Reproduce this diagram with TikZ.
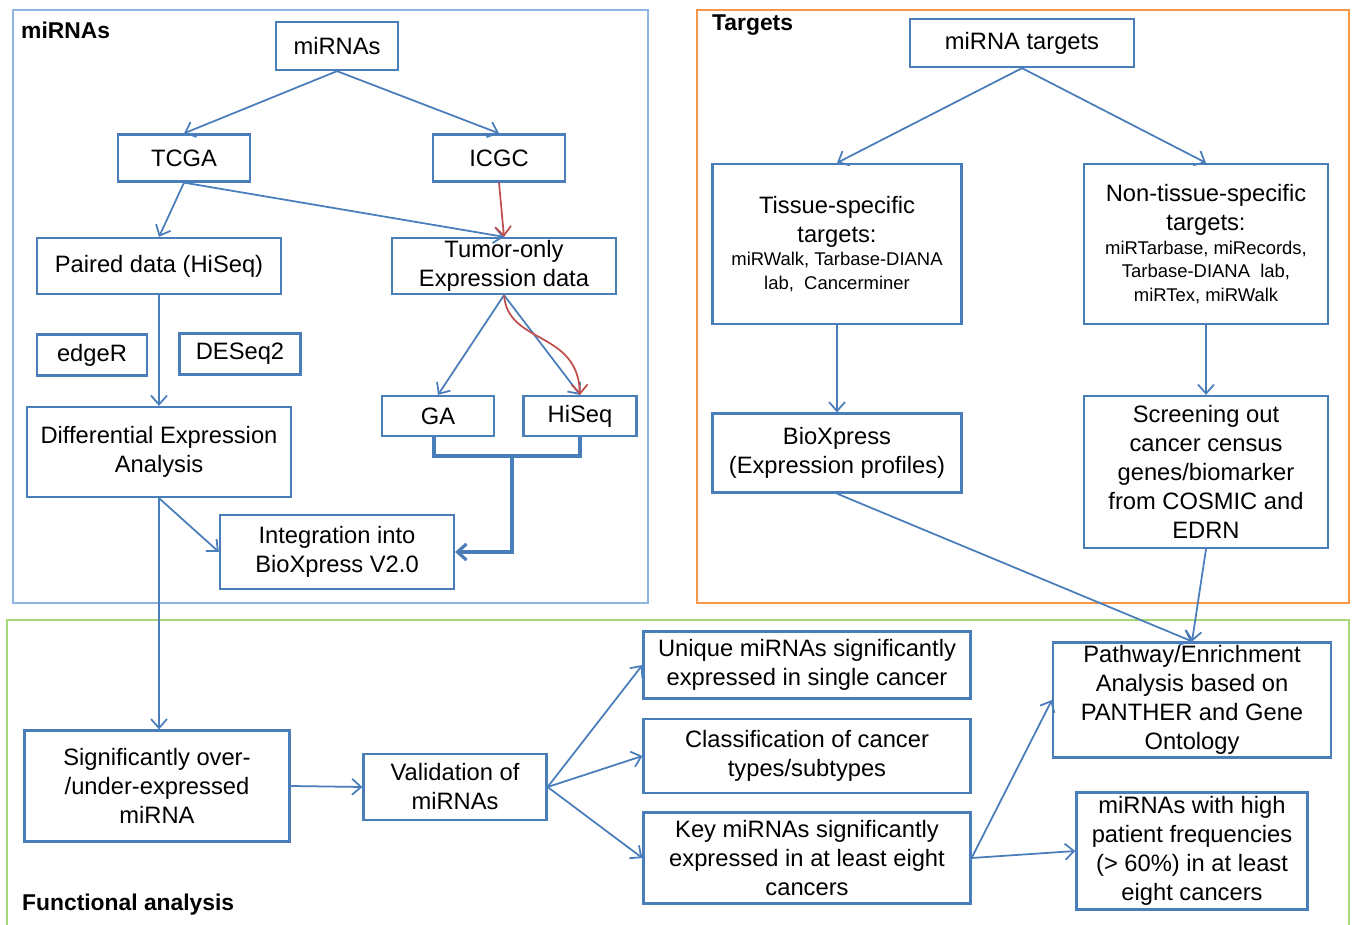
\documentclass[tikz,border=0pt]{standalone}
\usepackage{fontspec}
\setmainfont{Liberation Sans}
\usepackage{xcolor}
\usepackage{tikz}
\usetikzlibrary{arrows.meta}
\definecolor{boxblue}{HTML}{4A7EBB}
\definecolor{frameblue}{HTML}{8EB4E3}
\definecolor{frameorange}{HTML}{F79646}
\definecolor{framegreen}{HTML}{A6D87A}
\definecolor{linkred}{HTML}{C0504D}

\begin{document}
\begin{tikzpicture}[x=0.02cm, y=-0.02cm,
  >={Straight Barb[length=1.8mm,width=3.2mm]},
  every node/.style={font=\fontsize{13.5}{16.5}\selectfont, align=center},
  box/.style={draw=boxblue, line width=1.3pt, fill=white, inner sep=0pt},
  link/.style={->, draw=boxblue, line width=1pt},
  redlink/.style={->, draw=linkred, line width=1pt},
  frametitle/.style={anchor=west, font=\bfseries\fontsize{13}{16}\selectfont}]
\useasboundingbox (0,0) rectangle (1352,925);

\draw[frameblue, line width=0.8pt] (13,10) rectangle (648,603);
\draw[frameorange, line width=0.8pt] (697,10) rectangle (1349,603);
\draw[framegreen, line width=0.8pt] (7,925) -- (7,620) -- (1349,620) -- (1349,925);
\node[frametitle] (mirnatitle) at (15,30) {miRNAs};
\node[frametitle] (targettitle) at (706,25) {Targets};
\node[frametitle] (functitle) at (16,905) {Functional analysis};

\node[box, minimum width=2.44cm, minimum height=0.96cm] (mirnas) at (337,46) {miRNAs};
\node[box, minimum width=2.64cm, minimum height=0.94cm] (tcga) at (184,158) {TCGA};
\node[box, minimum width=2.64cm, minimum height=0.94cm] (icgc) at (499,158) {ICGC};
\node[box, minimum width=4.88cm, minimum height=1.12cm] (paired) at (159,266) {Paired data (HiSeq)};
\node[box, minimum width=4.48cm, minimum height=1.12cm] (tumor) at (504,266) {Tumor-only\\Expression data};
\node[box, minimum width=2.2cm, minimum height=0.82cm] (edger) at (92,355) {edgeR};
\node[box, minimum width=2.42cm, minimum height=0.82cm] (deseq) at (240,354) {DESeq2};
\node[box, minimum width=5.28cm, minimum height=1.8cm] (diffexp) at (159,452) {Differential Expression\\Analysis};
\node[box, minimum width=2.24cm, minimum height=0.8cm] (ga) at (438,416) {GA};
\node[box, minimum width=2.26cm, minimum height=0.8cm] (hiseq) at (580,416) {HiSeq};
\node[box, minimum width=4.68cm, minimum height=1.48cm] (integ) at (337,552) {Integration into\\BioXpress V2.0};

\node[box, minimum width=4.48cm, minimum height=0.96cm] (mirtargets) at (1022,43) {miRNA targets};
\node[box, minimum width=4.98cm, minimum height=3.2cm] (tissue) at (837,244) {Tissue-specific\\targets:\\[-3pt]
  {\fontsize{10.5}{13}\selectfont miRWalk, Tarbase-DIANA}\\[-3pt]{\fontsize{10.5}{13}\selectfont lab,\ \ Cancerminer}};
\node[box, minimum width=4.88cm, minimum height=3.2cm] (nontissue) at (1206,244) {Non-tissue-specific\\targets:\\[-3pt]
  {\fontsize{10.5}{13}\selectfont miRTarbase, miRecords,}\\[-3pt]{\fontsize{10.5}{13}\selectfont Tarbase-DIANA\ \ lab,}\\[-3pt]{\fontsize{10.5}{13}\selectfont miRTex, miRWalk}};
\node[box, minimum width=4.98cm, minimum height=1.58cm] (bioxpress) at (837,453) {BioXpress\\(Expression profiles)};
\node[box, minimum width=4.88cm, minimum height=3.04cm] (screening) at (1206,472) {Screening out\\cancer census\\genes/biomarker\\from COSMIC and\\EDRN};

\node[box, minimum width=5.3cm, minimum height=2.22cm] (sig) at (157,786) {Significantly over-\\/under-expressed\\miRNA};
\node[box, minimum width=3.66cm, minimum height=1.32cm] (valid) at (455,787) {Validation of\\miRNAs};
\node[box, minimum width=6.54cm, minimum height=1.34cm] (unique) at (807,665) {Unique miRNAs significantly\\expressed in single cancer};
\node[box, minimum width=6.54cm, minimum height=1.48cm] (classif) at (807,756) {Classification of cancer\\types/subtypes};
\node[box, minimum width=6.54cm, minimum height=1.82cm] (key) at (807,858) {Key miRNAs significantly\\expressed in at least eight\\cancers};
\node[box, minimum width=5.56cm, minimum height=2.3cm] (pathway) at (1192,700) {Pathway/Enrichment\\Analysis based on\\PANTHER and Gene\\Ontology};
\node[box, minimum width=4.62cm, minimum height=2.34cm] (highfreq) at (1192,851) {miRNAs with high\\patient frequencies\\(> 60\%) in at least\\eight cancers};

\draw[link] (mirnas.south) -- (tcga.north);
\draw[link] (mirnas.south) -- (icgc.north);
\draw[link] (tcga.south) -- (paired.north);
\draw[link] (tcga.south) -- (tumor.north);
\draw[redlink] (icgc.south) -- (tumor.north);
\draw[link] (tumor.south) -- (ga.north);
\draw[link] (tumor.south) -- (hiseq.north);
\draw[redlink] (tumor.south) .. controls (508,345) and (578,330) .. (hiseq.north);
\draw[link] (paired.south) -- (diffexp.north);
\draw[link] (diffexp.south) -- (integ.west);
\draw[link] (diffexp.south) -- (diffexp.south |- sig.north);
\coordinate (gafoot) at (434,456);
\coordinate (bracemid) at (512,456);
\draw[boxblue, line width=1.8pt] (ga.south -| gafoot) -- (gafoot) -- (gafoot -| hiseq.south) -- (hiseq.south);
\draw[->, boxblue, line width=1.8pt] (bracemid) -- (bracemid |- integ.east) -- (integ.east);

\draw[link] (mirtargets.south) -- (tissue.north);
\draw[link] (mirtargets.south) -- (nontissue.north);
\draw[link] (tissue.south) -- (bioxpress.north);
\draw[link] (nontissue.south) -- (screening.north);
\draw[link] (bioxpress.south) -- (pathway.north);
\draw[link] (screening.south) -- (pathway.north);

\draw[link] (sig.east) -- (valid.west);
\draw[link] (valid.east) -- (unique.west);
\draw[link] (valid.east) -- (classif.west);
\draw[link] (valid.east) -- (key.west);
\draw[link] (key.east) -- (pathway.west);
\draw[link] (key.east) -- (highfreq.west);
\end{tikzpicture}
\end{document}
